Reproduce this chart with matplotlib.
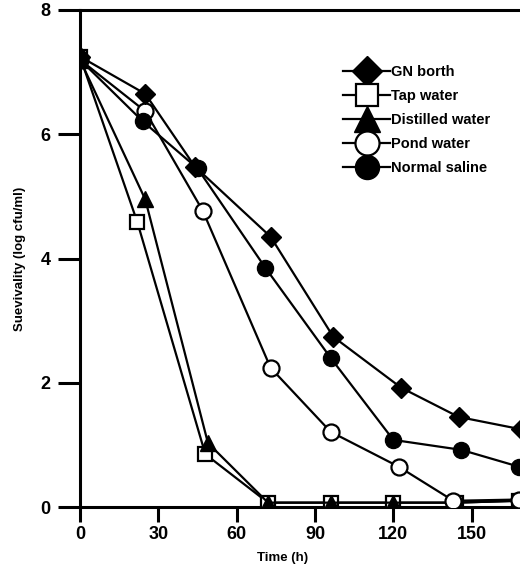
import matplotlib
matplotlib.use("Agg")
import matplotlib.pyplot as plt

plt.rcParams['font.family'] = ['Liberation Sans', 'DejaVu Sans']
plt.rcParams['font.weight'] = 'bold'

# survival data (log cfu/ml vs hours)
gn_hours = [0, 25, 44, 73, 97, 123, 145, 169]
gn_broth = [7.25, 6.65, 5.48, 4.35, 2.74, 1.92, 1.45, 1.25]

tap_hours = [0, 22, 48, 72, 96, 120, 144, 168]
tap_water = [7.25, 4.58, 0.85, 0.07, 0.07, 0.07, 0.07, 0.1]

dist_hours = [0, 25, 49, 72, 96, 120, 144, 168]
distilled_water = [7.2, 4.95, 1.03, 0.07, 0.07, 0.07, 0.07, 0.1]

pond_hours = [0, 25, 47, 73, 96, 122, 143, 168]
pond_water = [7.2, 6.37, 4.77, 2.24, 1.21, 0.65, 0.1, 0.12]

saline_hours = [0, 24, 45, 71, 96, 120, 146, 168]
normal_saline = [7.2, 6.21, 5.45, 3.85, 2.4, 1.08, 0.92, 0.65]

xticks = [0, 30, 60, 90, 120, 150]
yticks = [0, 2, 4, 6, 8]

W, H = 520, 571
fig = plt.figure(figsize=(W / 100, H / 100), dpi=100)
ax = fig.add_axes([80 / W, (H - 507) / H, 470 / W, 497 / H])

lw = 1.6
ms = 10.5
ax.plot(gn_hours, gn_broth, '-', color='black', lw=lw, marker='D',
        ms=ms * 0.95, mfc='black', mec='black', label='GN borth', zorder=5)
ax.plot(tap_hours, tap_water, '-', color='black', lw=lw, marker='s',
        ms=ms, mfc='white', mec='black', mew=1.6, label='Tap water', zorder=3)
ax.plot(dist_hours, distilled_water, '-', color='black', lw=lw, marker='^',
        ms=ms * 1.15, mfc='black', mec='black', label='Distilled water', zorder=4)
ax.plot(pond_hours, pond_water, '-', color='black', lw=lw, marker='o',
        ms=ms * 1.1, mfc='white', mec='black', mew=1.6, label='Pond water', zorder=4)
ax.plot(saline_hours, normal_saline, '-', color='black', lw=lw, marker='o',
        ms=ms * 1.1, mfc='black', mec='black', label='Normal saline', zorder=4)

ax.set_xlim(0, 180)
ax.set_ylim(0, 8)
ax.set_xticks(xticks)
ax.set_yticks(yticks)

for s in ['left', 'bottom', 'top']:
    ax.spines[s].set_linewidth(2.2)
ax.spines['right'].set_visible(False)

ax.tick_params(axis='y', direction='out', length=16, width=2.2, pad=5,
               labelsize=13)
ax.tick_params(axis='x', direction='out', length=11, width=2.2, pad=3,
               labelsize=13)
for lab in ax.get_xticklabels() + ax.get_yticklabels():
    lab.set_fontweight('bold')

ax.set_xlabel('Time (h)', fontsize=9.5, fontweight='bold')
ax.xaxis.set_label_coords((283 - 80) / 470, -0.09)
ax.set_ylabel('Suevivality (log cfu/ml)', fontsize=9.5, fontweight='bold')
ax.yaxis.set_label_coords(-0.115, 0.5)

leg = fig.legend(loc='upper left', bbox_to_anchor=(336 / W, 1 - 58 / H),
                 frameon=False, numpoints=1, markerscale=1.5,
                 handlelength=3.2, handletextpad=0.1, labelspacing=0.68,
                 borderpad=0, prop={'size': 10.5, 'weight': 'bold'})

fig.savefig('out.png', dpi=100)
